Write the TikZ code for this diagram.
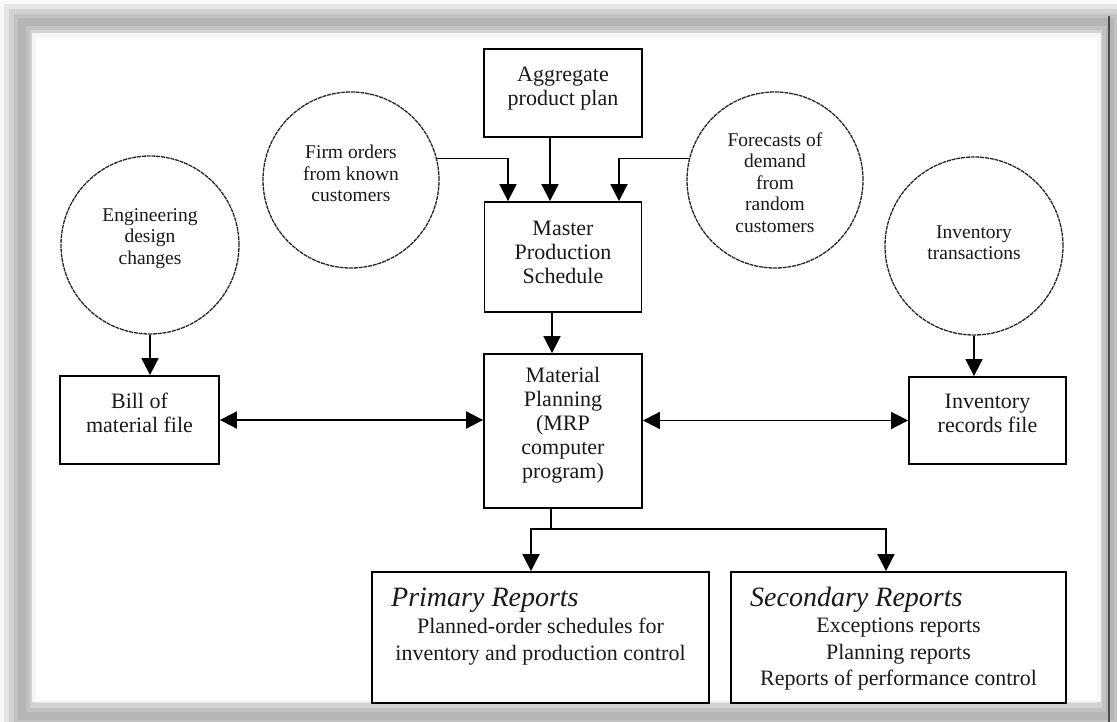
\documentclass[tikz,border=0pt]{standalone}
\usepackage{fontspec}
\setmainfont{Liberation Serif}
\usetikzlibrary{arrows.meta,calc}
\begin{document}
\begin{tikzpicture}[x=1pt,y=-1pt,
  box/.style={draw=black, line width=1.8pt, fill=white, inner sep=0pt},
  bubble/.style={circle, draw=black!85, line width=1.3pt, dash pattern=on 4pt off 0.8pt, inner sep=0pt, minimum size=#1},
  boxtext/.style={inner sep=0pt, align=center, text=black!90, font=\fontsize{22}{24}\selectfont},
  bubbletext/.style={inner sep=0pt, align=center, text=black!90, font=\fontsize{19.5}{21.5}\selectfont},
  reptitle/.style={inner sep=0pt, anchor=west, text=black!90, font=\fontsize{28}{30}\selectfont\itshape},
  reptext/.style={inner sep=0pt, align=center, text=black!90, font=\fontsize{22}{26.5}\selectfont},
  flow/.style={line width=1.8pt, draw=black},
  arr/.style={flow, -{Triangle[width=17pt,length=17pt]}},
  biarr/.style={flow, {Triangle[width=17pt,length=17pt]}-{Triangle[width=17pt,length=17pt]}}]

\useasboundingbox (0,0) rectangle (1117,722);

% page frame with soft grey shadow
\fill[gray!6] (0,0) rectangle (1117,722);
\draw[gray!20, line width=36pt] (22,22) rectangle (1110,716);
\draw[gray!35, line width=26pt] (22,22) rectangle (1110,716);
\draw[gray!48, line width=16pt] (22,22) rectangle (1110,716);
\draw[gray!58, line width=8pt] (22,22) rectangle (1110,716);
\fill[white!92!gray] (32,33) rectangle (1101,702);
\fill[white] (36,37) rectangle (1098,700);
\draw[black!70, line width=2.5pt] (1109,16) -- (1109,722);

% boxes
\node[box, minimum width=158pt, minimum height=88pt] (agg) at (563,93) {};
\node[boxtext] (aggt) at (563,88.5) {Aggregate\\product plan};

\node[box, minimum width=157pt, minimum height=110pt] (mps) at (563,257) {};
\node[boxtext] (mpst) at (563,252) {Master\\Production\\Schedule};

\node[box, minimum width=158pt, minimum height=154pt] (mat) at (563,431) {};
\node[boxtext] (matt) at (563,425.5) {Material\\Planning\\(MRP\\computer\\program)};

\node[box, minimum width=159pt, minimum height=88pt] (bom) at (139.5,420) {};
\node[boxtext] (bomt) at (139.5,412.5) {Bill of\\material file};

\node[box, minimum width=157pt, minimum height=87pt] (inv) at (987.5,420.5) {};
\node[boxtext] (invt) at (987.5,413.5) {Inventory\\records file};

\node[box, minimum width=337pt, minimum height=131pt] (prim) at (540.5,637.5) {};
\node[reptitle] (primh) at (391,600) {Primary Reports};
\node[reptext] (primt) at (540.5,641.5) {Planned-order schedules for\\inventory and production control};

\node[box, minimum width=335pt, minimum height=131pt] (sec) at (898.5,637.5) {};
\node[reptitle] (sech) at (750,600) {Secondary Reports};
\node[reptext] (sect) at (898.5,654.5) {Exceptions reports\\Planning reports\\Reports of performance control};

% input circles
\node[bubble=176pt] (firm) at (351,180) {};
\node[bubbletext] (firmt) at (351,173.5) {Firm orders\\from known\\customers};

\node[bubble=176pt] (fc) at (775,180) {};
\node[bubbletext] (fct) at (775,182.5) {Forecasts of\\demand\\from\\random\\customers};

\node[bubble=178pt] (eng) at (150,245) {};
\node[bubbletext] (engt) at (150,238.5) {Engineering\\design\\changes};

\node[bubble=178pt] (itr) at (974,246) {};
\node[bubbletext] (itrt) at (974,242.5) {Inventory\\transactions};

% connectors
\draw[arr] ([xshift=-13pt]agg.south) -- ([xshift=-13pt]mps.north);
\draw[arr] (firm.14.5) -| ([xshift=-55pt]mps.north);
\draw[arr] (fc.166) -| ([xshift=56pt]mps.north);
\draw[arr] ([xshift=-11pt]mps.south) -- ([xshift=-11pt]mat.north);
\draw[arr] (eng.south) -- (eng.south |- bom.north);
\draw[arr] (itr.south) -- (itr.south |- inv.north);
\draw[biarr] (bom.east) -- (bom.east -| mat.west);
\draw[biarr] (inv.west -| mat.east) -- (inv.west);

\coordinate (split) at (551,529);
\draw[flow] ([xshift=-12pt]mat.south) -- (split);
\draw[arr] (split) -| ([xshift=-9.5pt]prim.north);
\draw[arr] (split) -| ([xshift=-12.5pt]sec.north);

\end{tikzpicture}
\end{document}
